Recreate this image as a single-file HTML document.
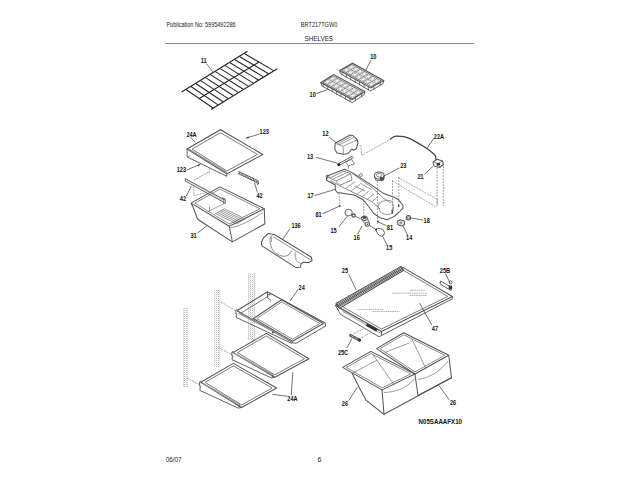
<!DOCTYPE html>
<html><head><meta charset="utf-8">
<style>
html,body{margin:0;padding:0;background:#fff;width:640px;height:480px;overflow:hidden}
svg{display:block}
text{font-family:"Liberation Sans",sans-serif}
.t{font-size:7px;fill:#222}
.b{font-size:6.6px;font-weight:bold;fill:#111}
.l{stroke:#707070;fill:none}
.d{stroke:#777;fill:none;stroke-dasharray:2 1}
.k{stroke:#555;fill:none}
.K{stroke:#222;fill:none}
.L{stroke:#333;fill:none}
.g{stroke:#777;fill:none}
</style></head><body>
<svg width="640" height="480" viewBox="0 0 640 480">
<defs><pattern id="dots" width="2" height="2" patternUnits="userSpaceOnUse"><rect x="0" y="0" width="1" height="1" fill="#bcbcbc"/><rect x="1" y="1" width="1" height="1" fill="#e6e6e6"/></pattern></defs>
<text class="t" transform="translate(166.4,27.2) scale(0.788,1)">Publication No: 5995492286</text>
<text class="t" transform="translate(300.8,27.1) scale(0.8,1)">BRT217TGW0</text>
<text class="t" transform="translate(304.5,40.9) scale(0.9,1)">SHELVES</text>
<line x1="165" y1="43.5" x2="474" y2="43.5" stroke="#8a8a8a" stroke-width="1"/>
<text class="t" transform="translate(165.8,461.7) scale(0.9,1)">06/07</text>
<text class="t" x="317.4" y="462">6</text>
<text class="b" transform="translate(418.6,423.5) scale(0.88,1)" style="font-size:7px">N05SAAAFX10</text>
<line x1="181.60" y1="91.90" x2="247.50" y2="51.30" class="K"  stroke-width="1.15"/>
<line x1="211.00" y1="109.40" x2="277.30" y2="68.75" class="K"  stroke-width="1.15"/>
<line x1="199.30" y1="98.50" x2="259.00" y2="62.00" class="K"  stroke-width="1.03"/>
<line x1="186.00" y1="89.50" x2="213.00" y2="108.00" class="K"  stroke-width="1.03"/>
<line x1="190.90" y1="86.52" x2="218.04" y2="104.88" class="K"  stroke-width="1.03"/>
<line x1="195.79" y1="83.54" x2="223.08" y2="101.77" class="K"  stroke-width="1.03"/>
<line x1="200.69" y1="80.56" x2="228.12" y2="98.65" class="K"  stroke-width="1.03"/>
<line x1="205.58" y1="77.58" x2="233.17" y2="95.53" class="K"  stroke-width="1.03"/>
<line x1="210.48" y1="74.60" x2="238.21" y2="92.42" class="K"  stroke-width="1.03"/>
<line x1="215.38" y1="71.62" x2="243.25" y2="89.30" class="K"  stroke-width="1.03"/>
<line x1="220.27" y1="68.65" x2="248.29" y2="86.18" class="K"  stroke-width="1.03"/>
<line x1="225.17" y1="65.67" x2="253.33" y2="83.07" class="K"  stroke-width="1.03"/>
<line x1="230.06" y1="62.69" x2="258.38" y2="79.95" class="K"  stroke-width="1.03"/>
<line x1="234.96" y1="59.71" x2="263.42" y2="76.83" class="K"  stroke-width="1.03"/>
<line x1="239.85" y1="56.73" x2="268.46" y2="73.72" class="K"  stroke-width="1.03"/>
<line x1="244.75" y1="53.75" x2="273.50" y2="70.60" class="K"  stroke-width="1.03"/>
<text class="b" transform="translate(200.80,62.90) scale(0.85,1)" style="font-size:6.6px">11</text>
<line x1="206.60" y1="63.75" x2="212.90" y2="71.90" class="L"  stroke-width="0.69"/>
<polyline points="339.70,70.50 340.20,73.50 370.60,90.90 383.10,83.60 383.60,80.60" class="k"  stroke-width="0.92"/>
<line x1="341.91" y1="71.74" x2="341.91" y2="75.34" class="k"  stroke-width="0.80"/>
<line x1="346.32" y1="74.23" x2="346.32" y2="77.83" class="k"  stroke-width="0.80"/>
<line x1="350.74" y1="76.71" x2="350.74" y2="80.31" class="k"  stroke-width="0.80"/>
<line x1="355.15" y1="79.20" x2="355.15" y2="82.80" class="k"  stroke-width="0.80"/>
<line x1="359.56" y1="81.69" x2="359.56" y2="85.29" class="k"  stroke-width="0.80"/>
<line x1="363.98" y1="84.17" x2="363.98" y2="87.77" class="k"  stroke-width="0.80"/>
<line x1="368.39" y1="86.66" x2="368.39" y2="90.26" class="k"  stroke-width="0.80"/>
<line x1="373.80" y1="86.08" x2="373.80" y2="89.67" class="k"  stroke-width="0.80"/>
<line x1="380.20" y1="82.43" x2="380.20" y2="86.03" class="k"  stroke-width="0.80"/>
<polygon points="339.70,70.50 352.50,63.20 383.60,80.60 370.60,87.90" class="k"  fill="#fff" stroke-width="1.15"/>
<polygon points="341.75,70.20 351.99,64.36 381.35,80.90 371.11,86.73" class=""  fill="none" stroke="#555" stroke-width="0.80"/>
<line x1="346.87" y1="67.28" x2="376.23" y2="83.81" class=""  stroke="#666" stroke-width="0.69"/>
<line x1="345.95" y1="72.57" x2="356.19" y2="66.73" class=""  stroke="#666" stroke-width="0.69"/>
<line x1="350.14" y1="74.93" x2="360.38" y2="69.09" class=""  stroke="#666" stroke-width="0.69"/>
<line x1="354.33" y1="77.29" x2="364.57" y2="71.45" class=""  stroke="#666" stroke-width="0.69"/>
<line x1="358.53" y1="79.65" x2="368.77" y2="73.81" class=""  stroke="#666" stroke-width="0.69"/>
<line x1="362.72" y1="82.01" x2="372.96" y2="76.17" class=""  stroke="#666" stroke-width="0.69"/>
<line x1="366.91" y1="84.37" x2="377.15" y2="78.53" class=""  stroke="#666" stroke-width="0.69"/>
<polygon points="343.87,69.95 346.43,68.49 348.95,69.90 346.39,71.36" class=""  fill="none" stroke="#9a9a9a" stroke-width="0.57" stroke-linejoin="round"/>
<polygon points="348.06,72.31 350.62,70.85 353.14,72.27 350.58,73.73" class=""  fill="none" stroke="#9a9a9a" stroke-width="0.57" stroke-linejoin="round"/>
<polygon points="352.26,74.67 354.82,73.21 357.33,74.63 354.77,76.09" class=""  fill="none" stroke="#9a9a9a" stroke-width="0.57" stroke-linejoin="round"/>
<polygon points="356.45,77.03 359.01,75.57 361.53,76.99 358.97,78.45" class=""  fill="none" stroke="#9a9a9a" stroke-width="0.57" stroke-linejoin="round"/>
<polygon points="360.65,79.39 363.21,77.93 365.72,79.35 363.16,80.81" class=""  fill="none" stroke="#9a9a9a" stroke-width="0.57" stroke-linejoin="round"/>
<polygon points="364.84,81.75 367.40,80.29 369.92,81.71 367.36,83.17" class=""  fill="none" stroke="#9a9a9a" stroke-width="0.57" stroke-linejoin="round"/>
<polygon points="369.03,84.12 371.59,82.66 374.11,84.07 371.55,85.53" class=""  fill="none" stroke="#9a9a9a" stroke-width="0.57" stroke-linejoin="round"/>
<polygon points="348.99,67.03 351.55,65.57 354.07,66.98 351.51,68.44" class=""  fill="none" stroke="#9a9a9a" stroke-width="0.57" stroke-linejoin="round"/>
<polygon points="353.18,69.39 355.74,67.93 358.26,69.35 355.70,70.81" class=""  fill="none" stroke="#9a9a9a" stroke-width="0.57" stroke-linejoin="round"/>
<polygon points="357.38,71.75 359.94,70.29 362.45,71.71 359.89,73.17" class=""  fill="none" stroke="#9a9a9a" stroke-width="0.57" stroke-linejoin="round"/>
<polygon points="361.57,74.11 364.13,72.65 366.65,74.07 364.09,75.53" class=""  fill="none" stroke="#9a9a9a" stroke-width="0.57" stroke-linejoin="round"/>
<polygon points="365.77,76.47 368.33,75.01 370.84,76.43 368.28,77.89" class=""  fill="none" stroke="#9a9a9a" stroke-width="0.57" stroke-linejoin="round"/>
<polygon points="369.96,78.83 372.52,77.37 375.04,78.79 372.48,80.25" class=""  fill="none" stroke="#9a9a9a" stroke-width="0.57" stroke-linejoin="round"/>
<polygon points="374.15,81.20 376.71,79.74 379.23,81.15 376.67,82.61" class=""  fill="none" stroke="#9a9a9a" stroke-width="0.57" stroke-linejoin="round"/>
<polyline points="321.00,82.60 321.50,85.60 352.20,102.60 364.30,94.60 364.80,91.60" class="k"  stroke-width="0.92"/>
<line x1="323.23" y1="83.81" x2="323.23" y2="87.41" class="k"  stroke-width="0.80"/>
<line x1="327.69" y1="86.24" x2="327.69" y2="89.84" class="k"  stroke-width="0.80"/>
<line x1="332.14" y1="88.67" x2="332.14" y2="92.27" class="k"  stroke-width="0.80"/>
<line x1="336.60" y1="91.10" x2="336.60" y2="94.70" class="k"  stroke-width="0.80"/>
<line x1="341.06" y1="93.53" x2="341.06" y2="97.13" class="k"  stroke-width="0.80"/>
<line x1="345.51" y1="95.96" x2="345.51" y2="99.56" class="k"  stroke-width="0.80"/>
<line x1="349.97" y1="98.39" x2="349.97" y2="101.99" class="k"  stroke-width="0.80"/>
<line x1="355.35" y1="97.60" x2="355.35" y2="101.20" class="k"  stroke-width="0.80"/>
<line x1="361.65" y1="93.60" x2="361.65" y2="97.20" class="k"  stroke-width="0.80"/>
<polygon points="321.00,82.60 333.60,74.60 364.80,91.60 352.20,99.60" class="k"  fill="#fff" stroke-width="1.15"/>
<polygon points="323.04,82.22 333.12,75.82 362.76,91.97 352.68,98.38" class=""  fill="none" stroke="#555" stroke-width="0.80"/>
<line x1="328.08" y1="79.02" x2="357.72" y2="95.17" class=""  stroke="#666" stroke-width="0.69"/>
<line x1="327.27" y1="84.53" x2="337.35" y2="78.13" class=""  stroke="#666" stroke-width="0.69"/>
<line x1="331.51" y1="86.84" x2="341.59" y2="80.44" class=""  stroke="#666" stroke-width="0.69"/>
<line x1="335.74" y1="89.15" x2="345.82" y2="82.75" class=""  stroke="#666" stroke-width="0.69"/>
<line x1="339.98" y1="91.45" x2="350.06" y2="85.05" class=""  stroke="#666" stroke-width="0.69"/>
<line x1="344.21" y1="93.76" x2="354.29" y2="87.36" class=""  stroke="#666" stroke-width="0.69"/>
<line x1="348.45" y1="96.07" x2="358.53" y2="89.67" class=""  stroke="#666" stroke-width="0.69"/>
<polygon points="325.15,81.89 327.67,80.29 330.21,81.67 327.69,83.27" class=""  fill="none" stroke="#9a9a9a" stroke-width="0.57" stroke-linejoin="round"/>
<polygon points="329.38,84.19 331.90,82.59 334.44,83.98 331.92,85.58" class=""  fill="none" stroke="#9a9a9a" stroke-width="0.57" stroke-linejoin="round"/>
<polygon points="333.62,86.50 336.14,84.90 338.68,86.28 336.16,87.89" class=""  fill="none" stroke="#9a9a9a" stroke-width="0.57" stroke-linejoin="round"/>
<polygon points="337.85,88.81 340.37,87.21 342.91,88.59 340.39,90.19" class=""  fill="none" stroke="#9a9a9a" stroke-width="0.57" stroke-linejoin="round"/>
<polygon points="342.08,91.11 344.60,89.51 347.14,90.90 344.62,92.50" class=""  fill="none" stroke="#9a9a9a" stroke-width="0.57" stroke-linejoin="round"/>
<polygon points="346.32,93.42 348.84,91.82 351.38,93.21 348.86,94.81" class=""  fill="none" stroke="#9a9a9a" stroke-width="0.57" stroke-linejoin="round"/>
<polygon points="350.55,95.73 353.07,94.13 355.61,95.51 353.09,97.11" class=""  fill="none" stroke="#9a9a9a" stroke-width="0.57" stroke-linejoin="round"/>
<polygon points="330.19,78.69 332.71,77.09 335.25,78.47 332.73,80.07" class=""  fill="none" stroke="#9a9a9a" stroke-width="0.57" stroke-linejoin="round"/>
<polygon points="334.42,80.99 336.94,79.39 339.48,80.78 336.96,82.38" class=""  fill="none" stroke="#9a9a9a" stroke-width="0.57" stroke-linejoin="round"/>
<polygon points="338.66,83.30 341.18,81.70 343.72,83.08 341.20,84.69" class=""  fill="none" stroke="#9a9a9a" stroke-width="0.57" stroke-linejoin="round"/>
<polygon points="342.89,85.61 345.41,84.01 347.95,85.39 345.43,86.99" class=""  fill="none" stroke="#9a9a9a" stroke-width="0.57" stroke-linejoin="round"/>
<polygon points="347.12,87.91 349.64,86.31 352.18,87.70 349.66,89.30" class=""  fill="none" stroke="#9a9a9a" stroke-width="0.57" stroke-linejoin="round"/>
<polygon points="351.36,90.22 353.88,88.62 356.42,90.01 353.90,91.61" class=""  fill="none" stroke="#9a9a9a" stroke-width="0.57" stroke-linejoin="round"/>
<polygon points="355.59,92.53 358.11,90.93 360.65,92.31 358.13,93.91" class=""  fill="none" stroke="#9a9a9a" stroke-width="0.57" stroke-linejoin="round"/>
<text class="b" transform="translate(370.20,58.80) scale(0.85,1)" style="font-size:6.6px">10</text>
<line x1="370.80" y1="60.20" x2="366.00" y2="70.00" class="L"  stroke-width="0.69"/>
<text class="b" transform="translate(309.60,97.00) scale(0.85,1)" style="font-size:6.6px">10</text>
<line x1="316.20" y1="93.60" x2="327.00" y2="89.80" class="L"  stroke-width="0.69"/>
<polygon points="187.00,149.00 220.50,129.70 262.80,154.50 226.80,174.00" class="k"  stroke-width="1.03"/>
<polygon points="192.04,149.10 220.49,132.71 257.51,154.41 226.90,170.99" class="l"  stroke-width="0.92"/>
<line x1="188.50" y1="149.20" x2="226.80" y2="172.70" class=""  stroke="#888" stroke-width="1.38"/>
<polyline points="187.00,149.00 187.20,157.00 222.50,174.20 226.80,176.30 226.80,174.00" class="k"  stroke-width="0.92"/>
<line x1="187.20" y1="157.00" x2="190.00" y2="156.00" class="l"  stroke-width="0.69"/>
<text class="b" transform="translate(186.40,136.80) scale(0.85,1)" style="font-size:6.6px">24A</text>
<line x1="190.30" y1="137.20" x2="195.50" y2="142.30" class="L"  stroke-width="0.69"/>
<text class="b" transform="translate(259.60,134.00) scale(0.85,1)" style="font-size:6.6px">123</text>
<line x1="259.00" y1="134.20" x2="246.00" y2="138.10" class="L"  stroke-width="0.69"/>
<polygon points="245.5,138.2 248.6,136.4 248.9,138.2" fill="#333"/>
<text class="b" transform="translate(176.70,172.30) scale(0.85,1)" style="font-size:6.6px">123</text>
<line x1="187.20" y1="169.80" x2="200.30" y2="164.20" class="L"  stroke-width="0.69"/>
<polygon points="200.6,164.1 197.6,164.9 198.4,166.5" fill="#333"/>
<path d="M191.1,203.1 L193,207 L197.4,218.75 L199.5,220.5 L232.4,241.9 L264.9,223.75 L264.25,208.75" class="k"  stroke-width="1.03" stroke-linejoin="round"/>
<line x1="229.25" y1="226.25" x2="232.40" y2="241.90" class="k"  stroke-width="0.92"/>
<path d="M229.9,228.1 Q243,226 263,212.5" class="l"  stroke-width="0.69"/>
<polygon points="191.10,203.10 219.90,186.90 264.25,208.75 229.25,226.25" class="k"  stroke-width="1.03" stroke-linejoin="round"/>
<polygon points="194.86,203.16 219.96,189.05 259.98,208.76 229.34,224.08" class="l"  stroke-width="0.80" stroke-linejoin="round"/>
<path d="M208.6,211.25 L223.6,203.75 L223.6,198.5 M209.5,211.5 L209.5,206.5" class="l"  stroke-width="0.69"/>
<polygon points="215.50,213.50 224.50,208.80 245.50,218.90 236.50,223.80" class="l"  stroke-width="0.69"/>
<line x1="217.30" y1="212.56" x2="238.30" y2="222.82" class="l"  stroke-width="0.69"/>
<line x1="219.10" y1="211.62" x2="240.10" y2="221.84" class="l"  stroke-width="0.69"/>
<line x1="220.90" y1="210.68" x2="241.90" y2="220.86" class="l"  stroke-width="0.69"/>
<line x1="222.70" y1="209.74" x2="243.70" y2="219.88" class="l"  stroke-width="0.69"/>
<line x1="185.30" y1="178.60" x2="224.70" y2="200.00" class="k"  stroke-width="0.92"/>
<line x1="185.60" y1="181.20" x2="223.70" y2="202.20" class="k"  stroke-width="0.92"/>
<line x1="185.30" y1="178.60" x2="185.60" y2="181.20" class="k"  stroke-width="0.92"/>
<line x1="186.50" y1="179.80" x2="223.50" y2="200.60" class=""  stroke="#999" stroke-width="0.69"/>
<path d="M222,197.5 L225.2,199 L225.2,203.5 L223,202.5" class="k"  stroke-width="0.92"/>
<line x1="238.30" y1="171.20" x2="258.30" y2="180.80" class="k"  stroke-width="0.92"/>
<line x1="237.80" y1="173.40" x2="257.80" y2="183.00" class="k"  stroke-width="0.92"/>
<line x1="239.77" y1="171.99" x2="239.17" y2="173.89" class=""  stroke="#444" stroke-width="0.80"/>
<line x1="241.31" y1="172.78" x2="240.71" y2="174.68" class=""  stroke="#444" stroke-width="0.80"/>
<line x1="242.85" y1="173.56" x2="242.25" y2="175.46" class=""  stroke="#444" stroke-width="0.80"/>
<line x1="244.40" y1="174.34" x2="243.80" y2="176.24" class=""  stroke="#444" stroke-width="0.80"/>
<line x1="245.94" y1="175.12" x2="245.34" y2="177.03" class=""  stroke="#444" stroke-width="0.80"/>
<line x1="247.48" y1="175.91" x2="246.88" y2="177.81" class=""  stroke="#444" stroke-width="0.80"/>
<line x1="249.02" y1="176.69" x2="248.42" y2="178.59" class=""  stroke="#444" stroke-width="0.80"/>
<line x1="250.56" y1="177.47" x2="249.96" y2="179.38" class=""  stroke="#444" stroke-width="0.80"/>
<line x1="252.10" y1="178.26" x2="251.50" y2="180.16" class=""  stroke="#444" stroke-width="0.80"/>
<line x1="253.65" y1="179.04" x2="253.05" y2="180.94" class=""  stroke="#444" stroke-width="0.80"/>
<line x1="255.19" y1="179.82" x2="254.59" y2="181.72" class=""  stroke="#444" stroke-width="0.80"/>
<line x1="256.73" y1="180.61" x2="256.13" y2="182.51" class=""  stroke="#444" stroke-width="0.80"/>
<path d="M257.8,181 L258.6,183.5 L257,184.5" class="k"  stroke-width="1.03"/>
<text class="b" transform="translate(179.80,201.10) scale(0.85,1)" style="font-size:6.6px">42</text>
<line x1="186.30" y1="196.00" x2="191.25" y2="186.20" class="L"  stroke-width="0.69"/>
<text class="b" transform="translate(256.50,197.50) scale(0.85,1)" style="font-size:6.6px">42</text>
<line x1="257.40" y1="192.50" x2="254.50" y2="182.70" class="L"  stroke-width="0.69"/>
<line x1="193.80" y1="180.60" x2="209.70" y2="171.25" class="d"  stroke-width="0.69"/>
<line x1="193.80" y1="186.30" x2="193.80" y2="195.60" class="d"  stroke-width="0.69"/>
<line x1="193.80" y1="195.60" x2="206.00" y2="192.80" class="d"  stroke-width="0.69"/>
<line x1="209.40" y1="168.40" x2="209.40" y2="173.10" class="d"  stroke-width="0.69"/>
<text class="b" transform="translate(190.40,238.20) scale(0.85,1)" style="font-size:6.6px">31</text>
<line x1="197.60" y1="233.00" x2="206.70" y2="226.00" class="L"  stroke-width="0.69"/>
<path d="M262,245.9 Q261,243.5 261.6,241.8 Q262.5,240 263.4,238.2 L268,233.6 L271.6,234.1 L274.3,234.5 L311.5,257.2 L312,260.8 L308.8,262.6 L303.3,262.2 Q300.5,263.5 300.6,265.4 L300.6,267.2 L296,267.6 Z" class="k"  stroke-width="1.03" stroke-linejoin="round"/>
<line x1="273.40" y1="236.80" x2="310.60" y2="259.90" class="l"  stroke-width="0.80"/>
<path d="M270.7,236.3 Q269.5,239.5 270.2,242.7 Q270.8,245.5 271.6,248.1 Q273.5,251.5 276.1,253.6 Q279.5,256 283.4,256.3 Q287,256.3 288.8,254.9 Q290.5,253 291.5,250.9" class="l"  stroke-width="0.80"/>
<path d="M272.2,235 Q270.8,238 271.5,242" class="l"  stroke-width="0.69"/>
<path d="M295.2,251.8 Q295,256 296,260 Q297.5,262.5 300.6,263.5" class="l"  stroke-width="0.69"/>
<text class="b" transform="translate(291.40,228.40) scale(0.85,1)" style="font-size:6.6px">136</text>
<line x1="290.00" y1="228.60" x2="282.20" y2="240.00" class="L"  stroke-width="0.69"/>
<path d="M335.2,143.3 L350.1,135 L352.7,135.4 L357.1,139.4 L358,142.9 L356.2,149 L353.6,150.3 L351.9,149 L349.7,151.6 L347.5,153.8 L343.6,154.2 L337,153 L334.8,149 Z" class="k"  stroke-width="1.03" stroke-linejoin="round"/>
<path d="M335.2,143.3 L343,146.3 L357.6,139.5 M343,146.3 L343.6,154.2 M337,144.2 L351.4,136.3 M339,145 L353.5,137.6" class="l"  stroke-width="0.69"/>
<text class="b" transform="translate(322.30,135.50) scale(0.85,1)" style="font-size:6.6px">12</text>
<line x1="329.00" y1="137.00" x2="336.10" y2="142.50" class="L"  stroke-width="0.69"/>
<line x1="337.40" y1="164.30" x2="352.70" y2="156.00" class="k"  stroke-width="0.92"/>
<line x1="338.00" y1="166.00" x2="353.50" y2="157.60" class="k"  stroke-width="0.92"/>
<line x1="337.60" y1="165.20" x2="340.00" y2="163.90" class=""  stroke="#222" stroke-width="2.30"/>
<polygon points="345.30,161.70 351.90,159.50 354.50,163.90 348.40,166.00" class="l"  stroke-width="0.80"/>
<line x1="348.40" y1="166.00" x2="348.40" y2="168.70" class="l"  stroke-width="0.80"/>
<text class="b" transform="translate(307.00,158.50) scale(0.85,1)" style="font-size:6.6px">13</text>
<line x1="315.90" y1="157.30" x2="337.70" y2="163.30" class="L"  stroke-width="0.69"/>
<polyline points="360.70,145.20 361.80,155.30 390.00,139.60" class="d"  stroke-width="0.69"/>
<path d="M390,139.4 Q394,136 396.6,136.1 L404,136.6 Q410,138 418.1,143.1 L426.6,148.3 Q433,153 435.5,155.8 L436,159.5" class=""  stroke="#444" fill="none" stroke-width="1.26"/>
<text class="b" transform="translate(433.80,139.10) scale(0.85,1)" style="font-size:6.6px">22A</text>
<line x1="433.90" y1="138.30" x2="426.90" y2="148.40" class="L"  stroke-width="0.69"/>
<path d="M433,162 L437,159.3 L442.5,161 L443.5,164.5 L439.5,167.5 L434,166 Z" class="k"  stroke-width="1.03" stroke-linejoin="round"/>
<path d="M433,162 L438.5,163.6 L442.5,161 M438.5,163.6 L439.5,167.5" class="l"  stroke-width="0.80"/>
<rect x="436.5" y="163" width="3.5" height="2.5" fill="#333" transform="rotate(-20 438 164)"/>
<line x1="437.00" y1="168.00" x2="437.00" y2="205.00" class="d"  stroke-width="0.69"/>
<line x1="443.30" y1="163.00" x2="443.30" y2="206.00" class="d"  stroke-width="0.69"/>
<text class="b" transform="translate(417.40,179.10) scale(0.85,1)" style="font-size:6.6px">21</text>
<line x1="424.50" y1="174.20" x2="433.00" y2="166.40" class="L"  stroke-width="0.69"/>
<ellipse cx="379.2" cy="175.5" rx="5" ry="3.6" class="k" style="stroke-width:1.03"/>
<ellipse cx="379.2" cy="175.2" rx="2.8" ry="1.8" class="l" style="stroke-width:0.80"/>
<path d="M374.5,176.5 L376,180 L383,180.5 L384.5,177" class="k"  stroke-width="1.03"/>
<rect x="380" y="177" width="4" height="3" fill="#555"/>
<text class="b" transform="translate(400.20,168.10) scale(0.85,1)" style="font-size:6.6px">23</text>
<line x1="399.50" y1="168.00" x2="383.00" y2="176.60" class="L"  stroke-width="0.69"/>
<polyline points="398.00,177.50 437.50,199.40 437.00,206.50" class="d"  stroke-width="0.69"/>
<line x1="392.50" y1="181.00" x2="436.00" y2="207.00" class="d"  stroke-width="0.69"/>
<path d="M327.8,175.8 L344.5,169.2 L351.2,172.1 L372,185.4 L383.1,193.2 L393.5,196.9 L398.75,200 L402.9,205.2 L402.9,208.3 L398.75,212.5 L394.6,216.1 L387.3,219.8 L380,217.7 L373.75,213.5 L368.5,206.25 L363.3,200 L355,195.3 L342.8,193.3 L337.4,192.5 L335.3,190 L335.3,185 L326.2,180 Z" class="k"  stroke-width="1.03" stroke-linejoin="round"/>
<circle cx="327.6" cy="176.6" r="1.5" class="k" style="stroke-width:0.92" fill="#fff"/>
<path d="M329.5,178 L344,171.25 L350.75,173.75 L336,181 Z" class="l"  stroke-width="0.80"/>
<path d="M330.3,180.8 L339.5,185.4 L352,180 L350.75,173.75" class="l"  stroke-width="0.80"/>
<path d="M333,179 L346,173 M336,181 L339.5,185.4" class="l"  stroke-width="0.69"/>
<path d="M351.2,172.1 L357.8,177.5 L372,187.5 L383.1,197.9 L391,203" class="l"  stroke-width="0.80"/>
<path d="M339.5,185.8 L357,194.2 L372,201.7 L380,209" class="l"  stroke-width="0.80"/>
<path d="M346,188 L355,181.5 M351,191 L360,184.5 M357,194.2 L364,188.8 M362,196.8 L369,191 M367,199.5 L374,193.8 M372,201.7 L378,196.5" class="l"  stroke-width="0.69"/>
<path d="M355,186 L365,191 M360,183 L371,189.5" class="l"  stroke-width="0.69"/>
<path d="M358.7,175.6 L361,173.3 L362.8,175 L361,176.5 Z" class="k"  stroke-width="0.80"/>
<path d="M379,203.1 Q385,199 391.5,201 Q395,206 392.5,213.5 Q385,216 380.5,212 Q377,207.5 379,203.1" class="l"  stroke-width="0.69"/>
<line x1="392.2" y1="209.4" x2="392.2" y2="213.5" stroke="#222" stroke-width="1.15"/>
<line x1="398.75" y1="204.5" x2="398.75" y2="207" stroke="#222" stroke-width="1.15"/>
<line x1="392.50" y1="180.20" x2="392.50" y2="211.50" class="d"  stroke-width="0.69"/>
<line x1="398.75" y1="177.00" x2="398.75" y2="202.00" class="d"  stroke-width="0.69"/>
<line x1="377.40" y1="181.00" x2="377.40" y2="224.00" class="d"  stroke-width="0.69"/>
<line x1="339.00" y1="193.00" x2="339.70" y2="205.70" class="d"  stroke-width="0.69"/>
<circle cx="339.7" cy="206" r="0.9" fill="#444"/>
<text class="b" transform="translate(307.40,198.10) scale(0.85,1)" style="font-size:6.6px">17</text>
<line x1="314.40" y1="195.60" x2="335.00" y2="189.40" class="L"  stroke-width="0.69"/>
<text class="b" transform="translate(315.50,217.20) scale(0.85,1)" style="font-size:6.6px">81</text>
<line x1="322.50" y1="213.75" x2="339.40" y2="206.25" class="L"  stroke-width="0.69"/>
<circle cx="378" cy="221.5" r="0.9" fill="#444"/>
<text class="b" transform="translate(386.80,229.50) scale(0.85,1)" style="font-size:6.6px">81</text>
<line x1="386.25" y1="225.60" x2="378.00" y2="221.90" class="L"  stroke-width="0.69"/>
<ellipse cx="348.6" cy="212.6" rx="3.7" ry="3.3" class="k" style="stroke-width:0.92"/>
<ellipse cx="353.6" cy="215.6" rx="1.7" ry="1.6" class="k" style="stroke-width:1.26"/>
<text class="b" transform="translate(330.50,233.10) scale(0.85,1)" style="font-size:6.6px">15</text>
<line x1="338.75" y1="226.90" x2="347.50" y2="216.00" class="L"  stroke-width="0.69"/>
<line x1="355.60" y1="216.50" x2="360.60" y2="218.75" class="L"  stroke-width="0.69"/>
<line x1="363.75" y1="200.00" x2="363.75" y2="215.50" class="d"  stroke-width="0.69"/>
<path d="M361.2,217.5 Q362.5,215.6 365,216 Q367.5,216.8 367.5,218.8 Q366.5,220.8 364,220.6 Q361.5,220 361.2,217.5 Z" class="k"  stroke-width="1.03"/>
<ellipse cx="364.4" cy="217.6" rx="2.2" ry="1.3" fill="#444"/>
<path d="M361.5,219.5 L365,223.8 M367.5,219 L369.4,222.5" class="k"  stroke-width="0.80"/>
<ellipse cx="367.3" cy="224.3" rx="2.2" ry="2" class="k" style="stroke-width:1.03"/>
<circle cx="367.3" cy="224.3" r="0.8" fill="#444"/>
<text class="b" transform="translate(353.60,239.50) scale(0.85,1)" style="font-size:6.6px">16</text>
<line x1="357.50" y1="234.40" x2="362.00" y2="226.00" class="L"  stroke-width="0.69"/>
<line x1="369.40" y1="225.60" x2="375.00" y2="228.75" class="L"  stroke-width="0.69"/>
<path d="M375.6,229.4 Q377,228 380,228.4 Q384,229.5 384.5,232.5 Q384.5,236 381.5,236.2 Q379,236 377.5,233.5 Z" class="k"  stroke-width="0.92"/>
<circle cx="376.2" cy="229.6" r="1" fill="#333"/>
<text class="b" transform="translate(386.10,250.10) scale(0.85,1)" style="font-size:6.6px">15</text>
<line x1="387.50" y1="245.60" x2="382.50" y2="236.20" class="L"  stroke-width="0.69"/>
<circle cx="408.4" cy="217.8" r="2.2" class="k" style="stroke-width:1.03"/>
<circle cx="408.4" cy="217.8" r="1.1" class="k" style="stroke-width:0.80"/>
<text class="b" transform="translate(423.60,222.60) scale(0.85,1)" style="font-size:6.6px">18</text>
<line x1="423.00" y1="220.00" x2="410.80" y2="218.00" class="L"  stroke-width="0.69"/>
<path d="M397.5,221 L400.5,219.8 L404.2,221.2 L404.5,224.5 L401.5,226 L398,224.8 Z" class="k"  stroke-width="1.03"/>
<circle cx="401" cy="222.9" r="1.1" class="k" style="stroke-width:0.80"/>
<text class="b" transform="translate(406.10,240.10) scale(0.85,1)" style="font-size:6.6px">14</text>
<line x1="407.50" y1="235.00" x2="403.00" y2="225.80" class="L"  stroke-width="0.69"/>
<rect x="183.5" y="308" width="4.0" height="79" fill="url(#dots)"/>
<line x1="183.5" y1="308" x2="183.5" y2="387" stroke="#bbb" stroke-width="0.69" stroke-dasharray="1 1"/>
<line x1="187.5" y1="308" x2="187.5" y2="387" stroke="#bbb" stroke-width="0.69" stroke-dasharray="1 1"/>
<rect x="214.5" y="290" width="5.5" height="77" fill="url(#dots)"/>
<line x1="214.5" y1="290" x2="214.5" y2="367" stroke="#bbb" stroke-width="0.69" stroke-dasharray="1 1"/>
<line x1="220" y1="290" x2="220" y2="367" stroke="#bbb" stroke-width="0.69" stroke-dasharray="1 1"/>
<rect x="248.5" y="273" width="6.0" height="67" fill="url(#dots)"/>
<line x1="248.5" y1="273" x2="248.5" y2="340" stroke="#bbb" stroke-width="0.69" stroke-dasharray="1 1"/>
<line x1="254.5" y1="273" x2="254.5" y2="340" stroke="#bbb" stroke-width="0.69" stroke-dasharray="1 1"/>
<line x1="186.80" y1="378.10" x2="200.30" y2="384.90" class="d"  stroke-width="0.69"/>
<line x1="218.60" y1="347.60" x2="232.80" y2="355.00" class="d"  stroke-width="0.69"/>
<line x1="221.00" y1="302.00" x2="236.00" y2="311.00" class="d"  stroke-width="0.69"/>
<polyline points="237.00,310.80 267.50,291.80" class="k"  stroke-width="1.03"/>
<line x1="240.50" y1="313.30" x2="269.00" y2="295.80" class="l"  stroke-width="0.92"/>
<line x1="267.50" y1="291.80" x2="325.50" y2="323.30" class="k"  stroke-width="1.03"/>
<polygon points="253.40,318.60 281.60,299.80 323.30,323.50 292.50,341.30" class="k"  stroke-width="1.03" stroke-linejoin="round"/>
<polygon points="256.80,318.49 281.68,301.91 319.68,323.51 292.50,339.22" class="l"  stroke-width="0.80" stroke-linejoin="round"/>
<path d="M325.5,323.3 L325.6,326 Q312,334 296,343.3 L293.5,343" class="k"  stroke-width="0.92"/>
<line x1="237.00" y1="310.80" x2="293.50" y2="343.00" class="k"  stroke-width="1.03"/>
<polyline points="237.00,317.80 273.80,335.00 292.00,343.50" class="k"  stroke-width="0.92"/>
<line x1="238.50" y1="313.30" x2="292.00" y2="341.50" class=""  stroke="#999" stroke-width="1.15"/>
<polyline points="237.50,309.60 235.80,310.30 235.80,313.80 237.30,314.30 236.20,315.00 236.20,317.80 237.00,317.80" class="k"  stroke-width="0.92"/>
<polyline points="267.50,291.80 267.50,297.80 271.00,300.30" class="k"  stroke-width="0.92"/>
<line x1="268.50" y1="294.30" x2="270.50" y2="294.80" class="k"  stroke-width="1.38"/>
<circle cx="273" cy="332.5" r="1" fill="#444"/>
<polygon points="233.00,352.60 266.25,333.40 309.00,358.75 274.80,377.30" class="k"  stroke-width="1.03" stroke-linejoin="round" stroke="#333"/>
<polygon points="237.36,352.62 266.24,335.95 304.54,358.66 274.85,374.77" class="l"  stroke-width="0.92" stroke-linejoin="round"/>
<line x1="235.50" y1="353.90" x2="273.60" y2="375.10" class=""  stroke="#999" stroke-width="1.26"/>
<polyline points="233.00,360.10 271.30,377.90 274.80,377.30" class="k"  stroke-width="0.92"/>
<polyline points="233.50,351.40 231.80,352.10 231.80,355.98 233.30,356.35 232.20,357.10 232.20,360.10 233.00,360.10" class="k"  stroke-width="0.92"/>
<circle cx="272.30" cy="375.80" r="0.9" fill="#555"/>
<polygon points="200.80,382.30 233.40,363.40 276.60,388.00 241.60,407.50" class="k"  stroke-width="1.03" stroke-linejoin="round" stroke="#333"/>
<polygon points="205.08,382.36 233.41,365.94 272.12,387.98 241.66,404.95" class="l"  stroke-width="0.92" stroke-linejoin="round"/>
<line x1="203.30" y1="383.60" x2="240.40" y2="405.30" class=""  stroke="#999" stroke-width="1.26"/>
<polyline points="200.80,390.80 238.10,408.10 241.60,407.50" class="k"  stroke-width="0.92"/>
<polyline points="201.30,381.10 199.60,381.80 199.60,386.12 201.10,386.55 200.00,387.40 200.00,390.80 200.80,390.80" class="k"  stroke-width="0.92"/>
<circle cx="239.10" cy="406.00" r="0.9" fill="#555"/>
<text class="b" transform="translate(298.60,289.50) scale(0.85,1)" style="font-size:6.6px">24</text>
<line x1="298.00" y1="289.40" x2="290.00" y2="301.00" class="L"  stroke-width="0.69"/>
<text class="b" transform="translate(287.30,401.10) scale(0.85,1)" style="font-size:6.6px">24A</text>
<line x1="287.50" y1="396.25" x2="272.50" y2="394.40" class="L"  stroke-width="0.69"/>
<line x1="291.25" y1="395.30" x2="292.80" y2="372.00" class="L"  stroke-width="0.69"/>
<polygon points="335.40,305.20 402.80,267.40 452.50,296.50 381.50,331.50" class="k"  stroke-width="1.03" stroke-linejoin="round"/>
<polygon points="339.87,305.22 402.78,269.94 447.86,296.33 381.58,329.01" class="l"  stroke-width="0.92" stroke-linejoin="round"/>
<polygon points="335.90,303.40 401.30,266.20 403.80,270.40 339.40,308.40" class=""  fill="#b8b8b8" stroke="#333" stroke-width="0.80"/>
<line x1="337.02" y1="303.54" x2="339.32" y2="306.94" class=""  stroke="#333" stroke-width="0.75"/>
<line x1="338.65" y1="302.61" x2="340.95" y2="306.00" class=""  stroke="#333" stroke-width="0.75"/>
<line x1="340.29" y1="301.68" x2="342.59" y2="305.07" class=""  stroke="#333" stroke-width="0.75"/>
<line x1="341.92" y1="300.75" x2="344.22" y2="304.14" class=""  stroke="#333" stroke-width="0.75"/>
<line x1="343.56" y1="299.81" x2="345.86" y2="303.21" class=""  stroke="#333" stroke-width="0.75"/>
<line x1="345.19" y1="298.88" x2="347.49" y2="302.28" class=""  stroke="#333" stroke-width="0.75"/>
<line x1="346.83" y1="297.95" x2="349.13" y2="301.35" class=""  stroke="#333" stroke-width="0.75"/>
<line x1="348.46" y1="297.02" x2="350.76" y2="300.42" class=""  stroke="#333" stroke-width="0.75"/>
<line x1="350.10" y1="296.10" x2="352.40" y2="299.50" class=""  stroke="#333" stroke-width="0.75"/>
<line x1="351.73" y1="295.17" x2="354.03" y2="298.56" class=""  stroke="#333" stroke-width="0.75"/>
<line x1="353.37" y1="294.24" x2="355.67" y2="297.63" class=""  stroke="#333" stroke-width="0.75"/>
<line x1="355.00" y1="293.31" x2="357.30" y2="296.70" class=""  stroke="#333" stroke-width="0.75"/>
<line x1="356.64" y1="292.38" x2="358.94" y2="295.77" class=""  stroke="#333" stroke-width="0.75"/>
<line x1="358.27" y1="291.44" x2="360.57" y2="294.84" class=""  stroke="#333" stroke-width="0.75"/>
<line x1="359.91" y1="290.51" x2="362.21" y2="293.91" class=""  stroke="#333" stroke-width="0.75"/>
<line x1="361.54" y1="289.58" x2="363.84" y2="292.98" class=""  stroke="#333" stroke-width="0.75"/>
<line x1="363.18" y1="288.66" x2="365.48" y2="292.06" class=""  stroke="#333" stroke-width="0.75"/>
<line x1="364.81" y1="287.73" x2="367.11" y2="291.12" class=""  stroke="#333" stroke-width="0.75"/>
<line x1="366.45" y1="286.80" x2="368.75" y2="290.19" class=""  stroke="#333" stroke-width="0.75"/>
<line x1="368.08" y1="285.87" x2="370.38" y2="289.26" class=""  stroke="#333" stroke-width="0.75"/>
<line x1="369.72" y1="284.94" x2="372.02" y2="288.33" class=""  stroke="#333" stroke-width="0.75"/>
<line x1="371.35" y1="284.00" x2="373.65" y2="287.40" class=""  stroke="#333" stroke-width="0.75"/>
<line x1="372.99" y1="283.07" x2="375.29" y2="286.47" class=""  stroke="#333" stroke-width="0.75"/>
<line x1="374.62" y1="282.14" x2="376.92" y2="285.54" class=""  stroke="#333" stroke-width="0.75"/>
<line x1="376.26" y1="281.22" x2="378.56" y2="284.62" class=""  stroke="#333" stroke-width="0.75"/>
<line x1="377.89" y1="280.29" x2="380.19" y2="283.69" class=""  stroke="#333" stroke-width="0.75"/>
<line x1="379.53" y1="279.36" x2="381.83" y2="282.75" class=""  stroke="#333" stroke-width="0.75"/>
<line x1="381.16" y1="278.43" x2="383.46" y2="281.82" class=""  stroke="#333" stroke-width="0.75"/>
<line x1="382.80" y1="277.50" x2="385.10" y2="280.89" class=""  stroke="#333" stroke-width="0.75"/>
<line x1="384.43" y1="276.56" x2="386.73" y2="279.96" class=""  stroke="#333" stroke-width="0.75"/>
<line x1="386.07" y1="275.63" x2="388.37" y2="279.03" class=""  stroke="#333" stroke-width="0.75"/>
<line x1="387.70" y1="274.70" x2="390.00" y2="278.10" class=""  stroke="#333" stroke-width="0.75"/>
<line x1="389.34" y1="273.78" x2="391.64" y2="277.18" class=""  stroke="#333" stroke-width="0.75"/>
<line x1="390.97" y1="272.85" x2="393.27" y2="276.25" class=""  stroke="#333" stroke-width="0.75"/>
<line x1="392.61" y1="271.92" x2="394.91" y2="275.31" class=""  stroke="#333" stroke-width="0.75"/>
<line x1="394.24" y1="270.99" x2="396.54" y2="274.38" class=""  stroke="#333" stroke-width="0.75"/>
<line x1="395.88" y1="270.06" x2="398.18" y2="273.45" class=""  stroke="#333" stroke-width="0.75"/>
<line x1="397.51" y1="269.12" x2="399.81" y2="272.52" class=""  stroke="#333" stroke-width="0.75"/>
<line x1="399.15" y1="268.19" x2="401.45" y2="271.59" class=""  stroke="#333" stroke-width="0.75"/>
<line x1="400.78" y1="267.26" x2="403.08" y2="270.66" class=""  stroke="#333" stroke-width="0.75"/>
<line x1="337.65" y1="305.90" x2="402.55" y2="268.30" class=""  stroke="#555" stroke-width="0.57"/>
<polyline points="335.40,305.20 340.40,314.30 379.00,336.70 381.50,335.50 381.50,331.50" class="k"  stroke-width="0.92"/>
<line x1="339.90" y1="308.50" x2="381.00" y2="331.00" class="l"  stroke-width="0.80"/>
<line x1="342.50" y1="311.20" x2="380.50" y2="333.00" class="l"  stroke-width="0.69"/>
<line x1="381.50" y1="335.50" x2="452.30" y2="298.80" class="k"  stroke-width="0.92"/>
<line x1="452.50" y1="296.50" x2="452.30" y2="298.80" class="k"  stroke-width="0.92"/>
<line x1="366.50" y1="324.50" x2="377.00" y2="330.50" class=""  stroke="#333" stroke-width="2.99"/>
<line x1="392.00" y1="293.20" x2="427.00" y2="293.20" class=""  stroke="#8c8c8c" stroke-width="0.69" stroke-dasharray="1.6 0.6"/>
<line x1="410.00" y1="290.30" x2="425.00" y2="290.30" class=""  stroke="#8c8c8c" stroke-width="0.69" stroke-dasharray="1.6 0.6"/>
<line x1="409.50" y1="295.50" x2="427.00" y2="295.50" class=""  stroke="#8c8c8c" stroke-width="0.69" stroke-dasharray="1.6 0.6"/>
<line x1="357.50" y1="309.40" x2="384.00" y2="309.40" class=""  stroke="#8c8c8c" stroke-width="0.69" stroke-dasharray="1.6 0.6"/>
<line x1="372.50" y1="311.50" x2="399.50" y2="311.50" class=""  stroke="#8c8c8c" stroke-width="0.69" stroke-dasharray="1.6 0.6"/>
<text class="b" transform="translate(341.80,272.60) scale(0.85,1)" style="font-size:6.6px">25</text>
<line x1="348.75" y1="274.40" x2="356.25" y2="290.00" class="L"  stroke-width="0.69"/>
<text class="b" transform="translate(431.80,330.70) scale(0.85,1)" style="font-size:6.6px">47</text>
<line x1="431.90" y1="325.00" x2="419.40" y2="303.10" class="L"  stroke-width="0.69"/>
<path d="M440.5,281 L452,287.5 L451,290.5 L440,284 Z" class="k"  stroke-width="0.92"/>
<circle cx="450.6" cy="282.3" r="1.5" class="k" style="stroke-width:0.92"/>
<rect x="448.7" y="285.6" width="3.3" height="3.6" fill="#333"/>
<text class="b" transform="translate(439.80,273.20) scale(0.85,1)" style="font-size:6.6px">25B</text>
<line x1="445.60" y1="273.75" x2="450.00" y2="283.00" class="L"  stroke-width="0.69"/>
<line x1="349.30" y1="334.80" x2="360.70" y2="340.80" class=""  stroke="#555" stroke-width="2.99"/>
<line x1="349.30" y1="334.80" x2="360.70" y2="340.80" class=""  stroke="#ddd" stroke-width="1.03" stroke-dasharray="0.7 0.9"/>
<circle cx="359.5" cy="340" r="1.5" fill="#333"/>
<line x1="354.00" y1="333.50" x2="363.30" y2="328.90" class="d"  stroke-width="0.69"/>
<line x1="361.25" y1="337.70" x2="370.00" y2="333.00" class="d"  stroke-width="0.69"/>
<text class="b" transform="translate(337.90,354.50) scale(0.85,1)" style="font-size:6.6px">25C</text>
<line x1="346.90" y1="348.00" x2="351.90" y2="338.75" class="L"  stroke-width="0.69"/>
<polygon points="376.50,348.60 403.70,332.70 448.70,355.20 414.90,374.00" class="k"  stroke-width="1.03" stroke-linejoin="round"/>
<polygon points="379.91,348.69 403.77,334.75 444.84,355.28 414.98,371.90" class="l"  stroke-width="0.80" stroke-linejoin="round"/>
<path d="M412,339.3 L426.2,369.3 M385,352.4 L409.3,343" class="l"  stroke-width="0.69"/>
<path d="M448.7,355.2 L451.5,377.7 L418,395.5 L414.9,374" class="k"  stroke-width="1.03"/>
<path d="M418,379.5 Q436,377 448,361" class="l"  stroke-width="0.69"/>
<polygon points="342.70,367.40 370.80,351.40 414.90,374.00 382.00,389.90" class="k"  stroke-width="1.03" stroke-linejoin="round"/>
<polygon points="346.33,367.40 370.85,353.45 410.86,373.95 382.07,387.87" class="l"  stroke-width="0.80" stroke-linejoin="round"/>
<path d="M372.7,354.3 L394.3,385.2 M353,373 L377.4,359.9" class="l"  stroke-width="0.69"/>
<path d="M352,373 L360,389 L366,400.2 L384,414.3 L382,389.9" class="k"  stroke-width="1.03"/>
<path d="M384,414.3 L451.5,377.7" class="k"  stroke-width="1.03"/>
<path d="M384,392.7 Q403,392 414.5,379" class="l"  stroke-width="0.69"/>
<text class="b" transform="translate(341.80,406.40) scale(0.85,1)" style="font-size:6.6px">26</text>
<line x1="348.75" y1="400.60" x2="357.50" y2="386.90" class="L"  stroke-width="0.69"/>
<text class="b" transform="translate(449.90,405.40) scale(0.85,1)" style="font-size:6.6px">26</text>
<line x1="449.20" y1="399.70" x2="439.00" y2="385.60" class="L"  stroke-width="0.69"/>
</svg>
</body></html>
